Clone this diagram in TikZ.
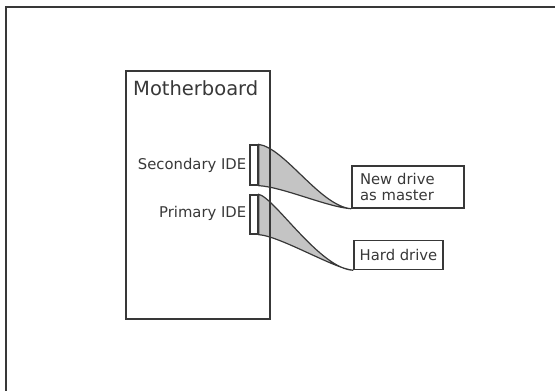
\documentclass[tikz,border=0pt]{standalone}
\usepackage{fontspec}
\setmainfont{DejaVu Sans}
\usetikzlibrary{positioning,backgrounds}
\definecolor{inkgray}{HTML}{383838}
\definecolor{cablegray}{HTML}{C4C4C4}
\tikzset{board/.style = {draw=inkgray,line width=1.5bp,minimum width=144bp,minimum height=248bp,inner sep=0pt}}
\tikzset{port/.style = {draw=inkgray,fill=white,line width=1.3bp,minimum width=8bp,inner sep=0pt}}
\tikzset{drive/.style = {draw=inkgray,line width=1.5bp,text=inkgray,font=\fontsize{14.8bp}{16.5bp}\selectfont}}
\tikzset{portlabel/.style = {text=inkgray,inner sep=0pt,font=\fontsize{14.8bp}{16.5bp}\selectfont}}
\tikzset{cable/.style = {draw=inkgray,fill=cablegray,line width=1.2bp}}

\begin{document}
\begin{tikzpicture}[x=1bp,y=-1bp]
		\useasboundingbox (0,0) rectangle (555,391);
		\draw[inkgray,line width=1.5bp] (555,7) -- (6,7) -- (6,391);
		\node[board] (mb) at (198,195) {};
		\node[text=inkgray,inner sep=0pt,anchor=base west,font=\fontsize{19.5bp}{22bp}\selectfont] (mbtext) at (133,95) {Motherboard};
		\node[port, minimum height=40bp] (sec) at (254,165) {};
		\node[port, minimum height=39bp] (pri) at (254,214.5) {};
		\node[portlabel, left=3bp of sec] (seclabel) {Secondary IDE};
		\node[portlabel, left=3bp of pri, yshift=1.5bp] (prilabel) {Primary IDE};
		\node[drive, minimum width=112bp, minimum height=42bp, text width=96bp, inner xsep=8bp, align=left] (newdrv) at (408,187) {New drive\\as master};
		\node[drive, minimum width=89bp, minimum height=29bp] (hdd) at (398.5,255) {Hard drive};
		\begin{scope}[on background layer]
		\draw[cable] (sec.north east) .. controls (285,148) and (320,206) .. (newdrv.south west) .. controls (327,207) and (283,187) .. (sec.south east) -- cycle;
		\draw[cable] (pri.north east) .. controls (274,197) and (320,269) .. (hdd.south west) .. controls (335,269) and (280,236) .. (pri.south east) -- cycle;
		\end{scope}
	\end{tikzpicture}
\end{document}
